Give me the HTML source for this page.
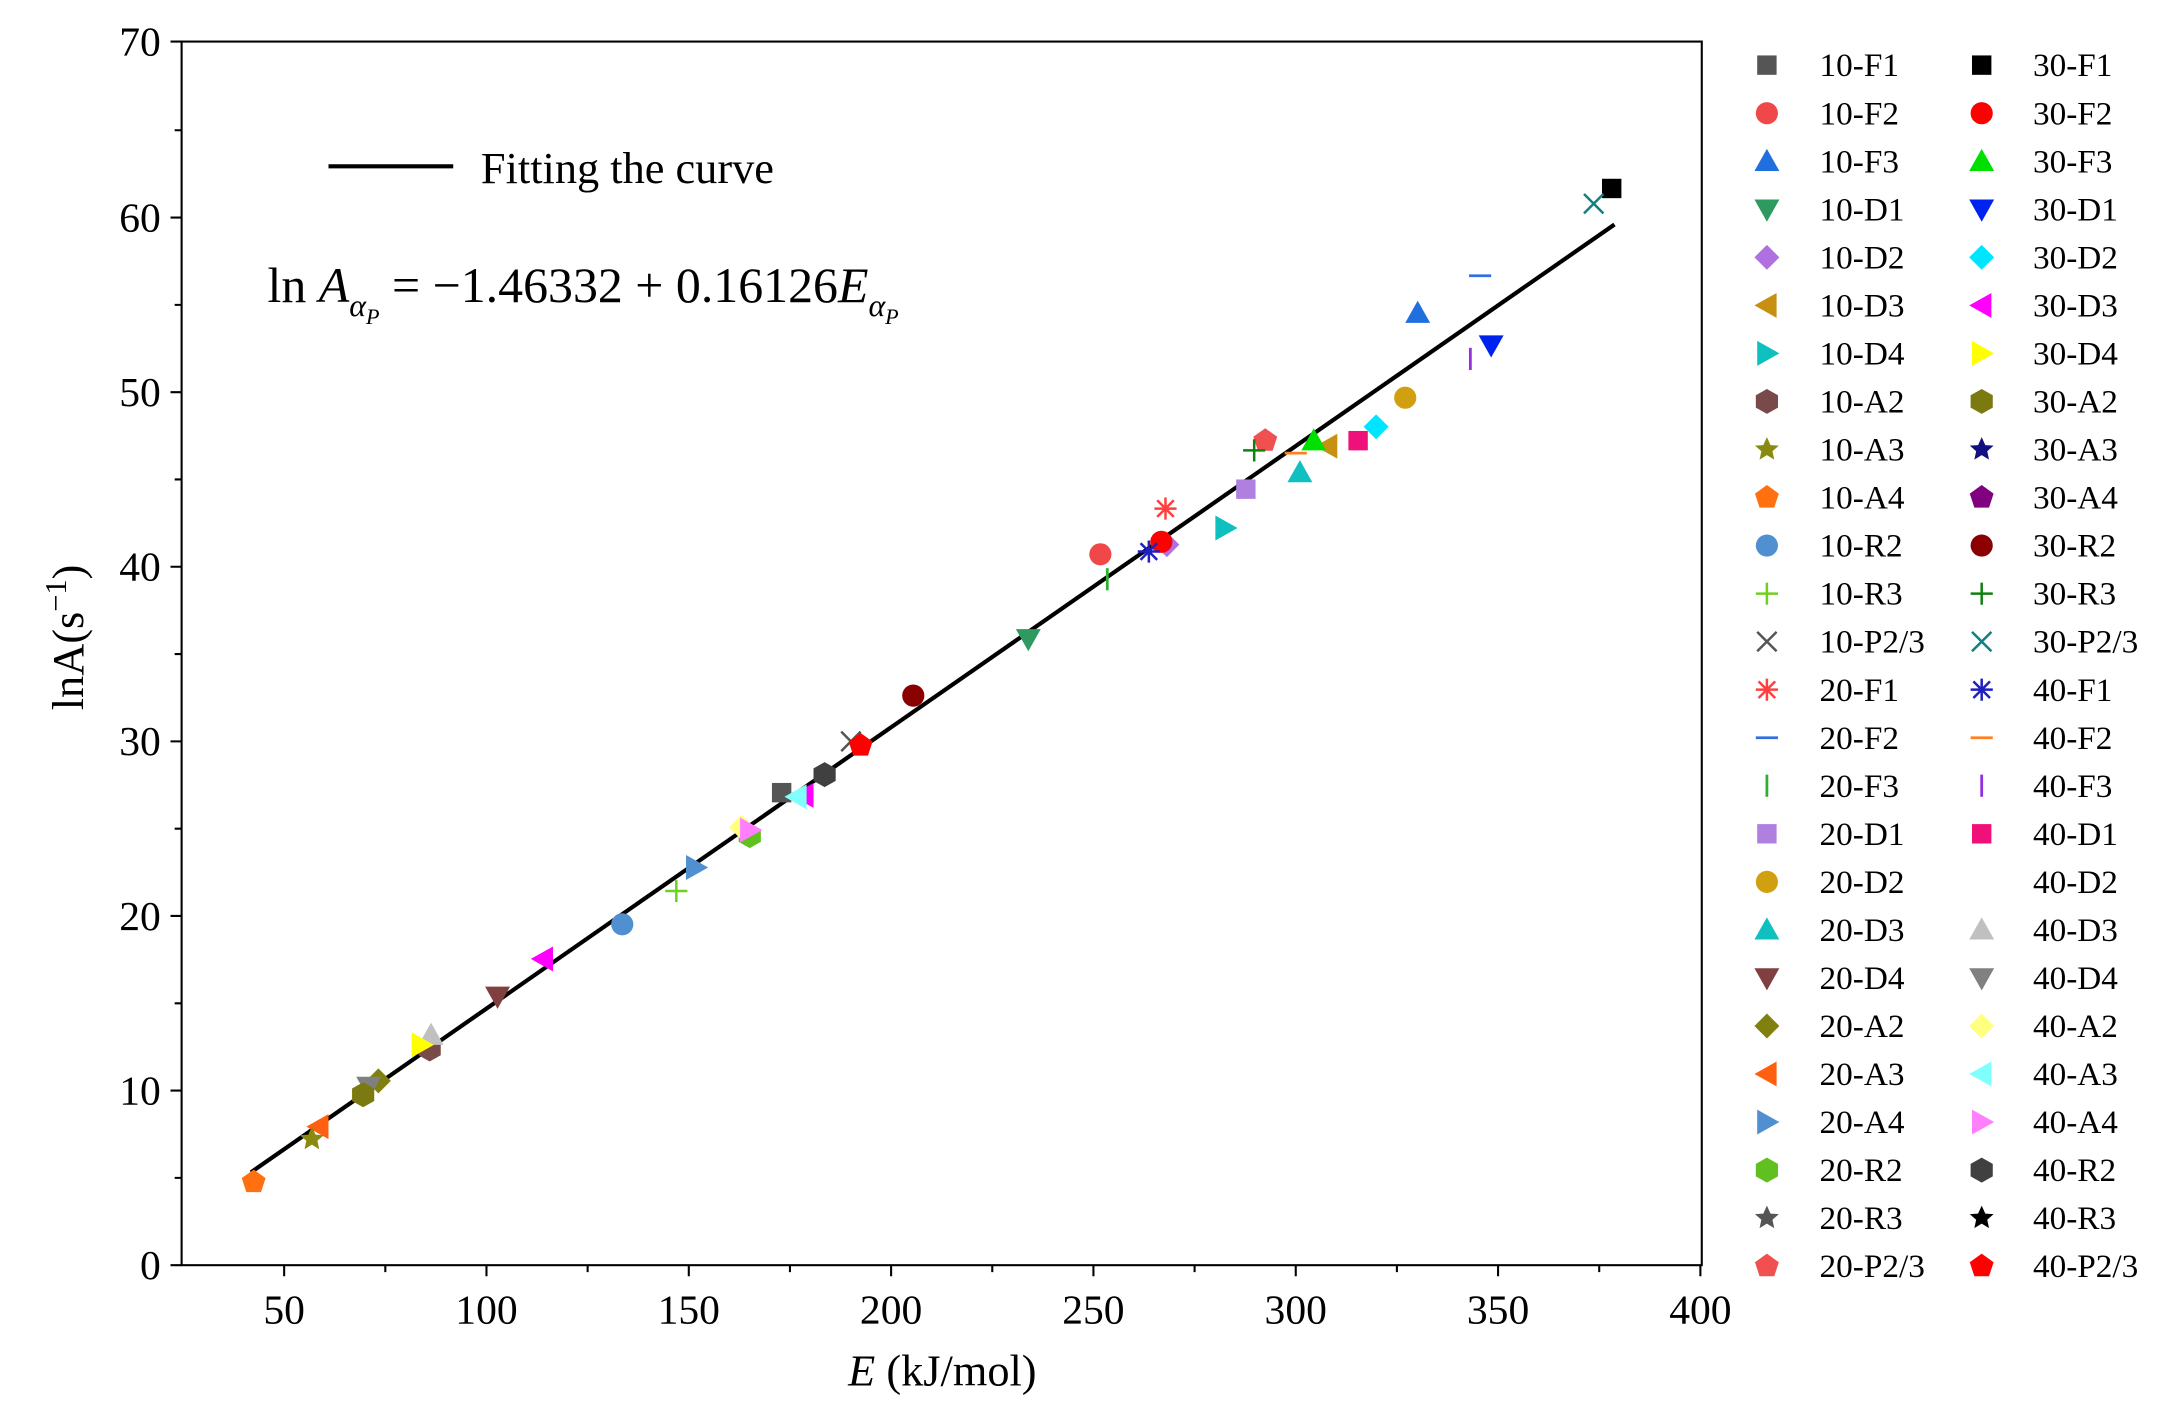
<!DOCTYPE html>
<html><head><meta charset="utf-8"><style>html,body{margin:0;padding:0;background:#fff}svg{display:block}</style></head><body>
<svg width="2173" height="1419" viewBox="0 0 1568 1024" xmlns="http://www.w3.org/2000/svg" font-family="'Liberation Serif',serif">
<defs>
<rect id="sq" x="-7" y="-7" width="14" height="14"/>
<circle id="ci" r="8"/>
<polygon id="tu" points="0,-9 9,7 -9,7"/>
<polygon id="td" points="0,9 9,-7 -9,-7"/>
<polygon id="dm" points="0,-9 9,0 0,9 -9,0"/>
<polygon id="tl" points="-9,0 7,-9 7,9"/>
<polygon id="tr" points="9,0 -7,-9 -7,9"/>
<polygon id="hx" points="0,-9 8,-4.5 8,4.5 0,9 -8,4.5 -8,-4.5"/>
<polygon id="st" points="0,-9 2.6,-3.2 8.6,-2.8 4,1.2 5.3,7.3 0,4 -5.3,7.3 -4,1.2 -8.6,-2.8 -2.6,-3.2"/>
<polygon id="pt" points="0,-9 8.6,-2.8 5.3,7.3 -5.3,7.3 -8.6,-2.8"/>
<circle id="bl" r="8"/>
<path id="pl" d="M-8,0H8M0,-8V8" fill="none" stroke-width="1.8"/>
<path id="xx" d="M-7,-7L7,7M-7,7L7,-7" fill="none" stroke-width="1.8"/>
<path id="as" d="M-8,0H8M0,-8V8M-6,-6L6,6M-6,6L6,-6" fill="none" stroke-width="1.8"/>
<path id="hd" d="M-8,0H8" fill="none" stroke-width="2"/>
<path id="vb" d="M0,-8V8" fill="none" stroke-width="2"/>
</defs>
<rect x="131" y="30" width="1097" height="883" fill="none" stroke="#000" stroke-width="1.5"/>
<g stroke="#000" stroke-width="1.5">
<path d="M205,913v8M351,913v8M497,913v8M643,913v8M789,913v8M935,913v8M1081,913v8M1227,913v8"/>
<path d="M131,913h-8M131,787h-8M131,661h-8M131,535h-8M131,409h-8M131,283h-8M131,157h-8M131,30h-8"/>
<path d="M278,913v5M424,913v5M570,913v5M716,913v5M862,913v5M1008,913v5M1154,913v5"/>
<path d="M131,850h-5M131,724h-5M131,598h-5M131,472h-5M131,346h-5M131,220h-5M131,94h-5"/>
</g>
<g font-size="30" text-anchor="middle">
<text x="205" y="955">50</text><text x="351" y="955">100</text><text x="497" y="955">150</text><text x="643" y="955">200</text><text x="789" y="955">250</text><text x="935" y="955">300</text><text x="1081" y="955">350</text><text x="1227" y="955">400</text>
</g>
<g font-size="30" text-anchor="end">
<text x="116" y="923">0</text><text x="116" y="797">10</text><text x="116" y="671">20</text><text x="116" y="545">30</text><text x="116" y="419">40</text><text x="116" y="293">50</text><text x="116" y="167">60</text><text x="116" y="40">70</text>
</g>
<text x="680" y="1000" font-size="32" text-anchor="middle"><tspan font-style="italic">E</tspan> (kJ/mol)</text>
<text transform="translate(60,460) rotate(-90)" font-size="32" text-anchor="middle">lnA(s<tspan baseline-shift="super" font-size="22">−1</tspan>)</text>
<line x1="237" y1="120" x2="327" y2="120" stroke="#000" stroke-width="3"/>
<text x="347" y="132" font-size="32">Fitting the curve</text>
<text x="193" y="218" font-size="36">ln <tspan font-style="italic">A</tspan><tspan font-style="italic" font-size="23" dy="10">α</tspan><tspan font-style="italic" font-size="16" dy="6">P</tspan><tspan dy="-16"> = −1.46332 + 0.16126</tspan><tspan font-style="italic">E</tspan><tspan font-style="italic" font-size="23" dy="10">α</tspan><tspan font-style="italic" font-size="16" dy="6">P</tspan></text>
<line x1="181" y1="846" x2="1165" y2="162" stroke="#000" stroke-width="3"/>
<g>
<use href="#sq" x="1163" y="136" fill="#000"/>
<use href="#xx" x="1150" y="147" stroke="#108080"/>
<use href="#hd" x="1068" y="199" stroke="#3070e0"/>
<use href="#tu" x="1023" y="226" fill="#1f6fdf"/>
<use href="#td" x="1076" y="249" fill="#0022ee"/>
<use href="#vb" x="1061" y="259" stroke="#9030e0"/>
<use href="#ci" x="1014" y="287" fill="#d0a010"/>
<use href="#dm" x="993" y="308" fill="#00e5ff"/>
<use href="#sq" x="980" y="318" fill="#f0107a"/>
<use href="#tl" x="958" y="322" fill="#c89010"/>
<use href="#tu" x="948" y="318" fill="#00e000"/>
<use href="#hd" x="935" y="327" stroke="#ff8020"/>
<use href="#tu" x="938" y="341" fill="#10c0c0"/>
<use href="#pt" x="913" y="318" fill="#f05050"/>
<use href="#pl" x="905" y="325" stroke="#108010"/>
<use href="#sq" x="899" y="353" fill="#b080e0"/>
<use href="#tr" x="884" y="381" fill="#10c0c0"/>
<use href="#as" x="841" y="367" stroke="#ff4040"/>
<use href="#dm" x="842" y="393" fill="#b070e0"/>
<use href="#ci" x="838" y="391" fill="#f00"/>
<use href="#as" x="829" y="398" stroke="#2020c0"/>
<use href="#ci" x="794" y="400" fill="#f04848"/>
<use href="#vb" x="799" y="418" stroke="#30b030"/>
<use href="#td" x="742" y="461" fill="#2e9a60"/>
<use href="#bl" x="659" y="502" fill="#8b0000"/>
<use href="#xx" x="614" y="535" stroke="#555"/>
<use href="#pt" x="621" y="538" fill="#f00"/>
<use href="#hx" x="595" y="559" fill="#404040"/>
<use href="#sq" x="564" y="572" fill="#555"/>
<use href="#tl" x="580" y="574" fill="#ff00ff"/>
<use href="#tl" x="575" y="575" fill="#80ffff"/>
<use href="#hx" x="541" y="603" fill="#60c020"/>
<use href="#dm" x="535" y="597" fill="#ffff80"/>
<use href="#tr" x="541" y="599" fill="#ff80ff"/>
<use href="#tr" x="502" y="626" fill="#5090d0"/>
<use href="#pl" x="488" y="643" stroke="#70d020"/>
<use href="#bl" x="449" y="667" fill="#5090d0"/>
<use href="#tl" x="392" y="692" fill="#ff00ff"/>
<use href="#td" x="359" y="719" fill="#804040"/>
<use href="#hx" x="310" y="757" fill="#7a4a4a"/>
<use href="#tu" x="311" y="747" fill="#c0c0c0"/>
<use href="#tr" x="304" y="754" fill="#ffff00"/>
<use href="#dm" x="273" y="780" fill="#808010"/>
<use href="#td" x="266" y="784" fill="#808080"/>
<use href="#hx" x="262" y="790" fill="#7a7a10"/>
<use href="#tl" x="230" y="813" fill="#ff6010"/>
<use href="#st" x="225" y="822" fill="#8a8a10"/>
<use href="#pt" x="183" y="853" fill="#ff7010"/>
</g>
<g font-size="24">
<g transform="translate(0,47)"><use href="#sq" x="1275" fill="#555"/><text x="1313" y="8">10-F1</text><use href="#sq" x="1430" fill="#000"/><text x="1467" y="8">30-F1</text></g>
<g transform="translate(0,81.7)"><use href="#ci" x="1275" fill="#f04848"/><text x="1313" y="8">10-F2</text><use href="#ci" x="1430" fill="#f00"/><text x="1467" y="8">30-F2</text></g>
<g transform="translate(0,116.4)"><use href="#tu" x="1275" fill="#1f6fdf"/><text x="1313" y="8">10-F3</text><use href="#tu" x="1430" fill="#00e000"/><text x="1467" y="8">30-F3</text></g>
<g transform="translate(0,151)"><use href="#td" x="1275" fill="#2e9a60"/><text x="1313" y="8">10-D1</text><use href="#td" x="1430" fill="#0022ee"/><text x="1467" y="8">30-D1</text></g>
<g transform="translate(0,185.7)"><use href="#dm" x="1275" fill="#b070e0"/><text x="1313" y="8">10-D2</text><use href="#dm" x="1430" fill="#00e5ff"/><text x="1467" y="8">30-D2</text></g>
<g transform="translate(0,220.4)"><use href="#tl" x="1275" fill="#c89010"/><text x="1313" y="8">10-D3</text><use href="#tl" x="1430" fill="#ff00ff"/><text x="1467" y="8">30-D3</text></g>
<g transform="translate(0,255)"><use href="#tr" x="1275" fill="#10c0c0"/><text x="1313" y="8">10-D4</text><use href="#tr" x="1430" fill="#ffff00"/><text x="1467" y="8">30-D4</text></g>
<g transform="translate(0,289.7)"><use href="#hx" x="1275" fill="#7a4a4a"/><text x="1313" y="8">10-A2</text><use href="#hx" x="1430" fill="#7a7a10"/><text x="1467" y="8">30-A2</text></g>
<g transform="translate(0,324.4)"><use href="#st" x="1275" fill="#8a8a10"/><text x="1313" y="8">10-A3</text><use href="#st" x="1430" fill="#101080"/><text x="1467" y="8">30-A3</text></g>
<g transform="translate(0,359)"><use href="#pt" x="1275" fill="#ff7010"/><text x="1313" y="8">10-A4</text><use href="#pt" x="1430" fill="#800080"/><text x="1467" y="8">30-A4</text></g>
<g transform="translate(0,393.7)"><use href="#bl" x="1275" fill="#5090d0"/><text x="1313" y="8">10-R2</text><use href="#bl" x="1430" fill="#8b0000"/><text x="1467" y="8">30-R2</text></g>
<g transform="translate(0,428.4)"><use href="#pl" x="1275" stroke="#70d020"/><text x="1313" y="8">10-R3</text><use href="#pl" x="1430" stroke="#108010"/><text x="1467" y="8">30-R3</text></g>
<g transform="translate(0,463)"><use href="#xx" x="1275" stroke="#555"/><text x="1313" y="8">10-P2/3</text><use href="#xx" x="1430" stroke="#108080"/><text x="1467" y="8">30-P2/3</text></g>
<g transform="translate(0,497.7)"><use href="#as" x="1275" stroke="#ff4040"/><text x="1313" y="8">20-F1</text><use href="#as" x="1430" stroke="#2020c0"/><text x="1467" y="8">40-F1</text></g>
<g transform="translate(0,532.4)"><use href="#hd" x="1275" stroke="#3070e0"/><text x="1313" y="8">20-F2</text><use href="#hd" x="1430" stroke="#ff8020"/><text x="1467" y="8">40-F2</text></g>
<g transform="translate(0,567)"><use href="#vb" x="1275" stroke="#30b030"/><text x="1313" y="8">20-F3</text><use href="#vb" x="1430" stroke="#9030e0"/><text x="1467" y="8">40-F3</text></g>
<g transform="translate(0,601.7)"><use href="#sq" x="1275" fill="#b080e0"/><text x="1313" y="8">20-D1</text><use href="#sq" x="1430" fill="#f0107a"/><text x="1467" y="8">40-D1</text></g>
<g transform="translate(0,636.4)"><use href="#ci" x="1275" fill="#d0a010"/><text x="1313" y="8">20-D2</text><text x="1467" y="8">40-D2</text></g>
<g transform="translate(0,671)"><use href="#tu" x="1275" fill="#10c0c0"/><text x="1313" y="8">20-D3</text><use href="#tu" x="1430" fill="#c0c0c0"/><text x="1467" y="8">40-D3</text></g>
<g transform="translate(0,705.7)"><use href="#td" x="1275" fill="#804040"/><text x="1313" y="8">20-D4</text><use href="#td" x="1430" fill="#808080"/><text x="1467" y="8">40-D4</text></g>
<g transform="translate(0,740.4)"><use href="#dm" x="1275" fill="#808010"/><text x="1313" y="8">20-A2</text><use href="#dm" x="1430" fill="#ffff80"/><text x="1467" y="8">40-A2</text></g>
<g transform="translate(0,775)"><use href="#tl" x="1275" fill="#ff6010"/><text x="1313" y="8">20-A3</text><use href="#tl" x="1430" fill="#80ffff"/><text x="1467" y="8">40-A3</text></g>
<g transform="translate(0,809.7)"><use href="#tr" x="1275" fill="#5090d0"/><text x="1313" y="8">20-A4</text><use href="#tr" x="1430" fill="#ff80ff"/><text x="1467" y="8">40-A4</text></g>
<g transform="translate(0,844.4)"><use href="#hx" x="1275" fill="#60c020"/><text x="1313" y="8">20-R2</text><use href="#hx" x="1430" fill="#404040"/><text x="1467" y="8">40-R2</text></g>
<g transform="translate(0,879)"><use href="#st" x="1275" fill="#555"/><text x="1313" y="8">20-R3</text><use href="#st" x="1430" fill="#000"/><text x="1467" y="8">40-R3</text></g>
<g transform="translate(0,913.7)"><use href="#pt" x="1275" fill="#f05050"/><text x="1313" y="8">20-P2/3</text><use href="#pt" x="1430" fill="#f00"/><text x="1467" y="8">40-P2/3</text></g>
</g>
</svg>
</body></html>
